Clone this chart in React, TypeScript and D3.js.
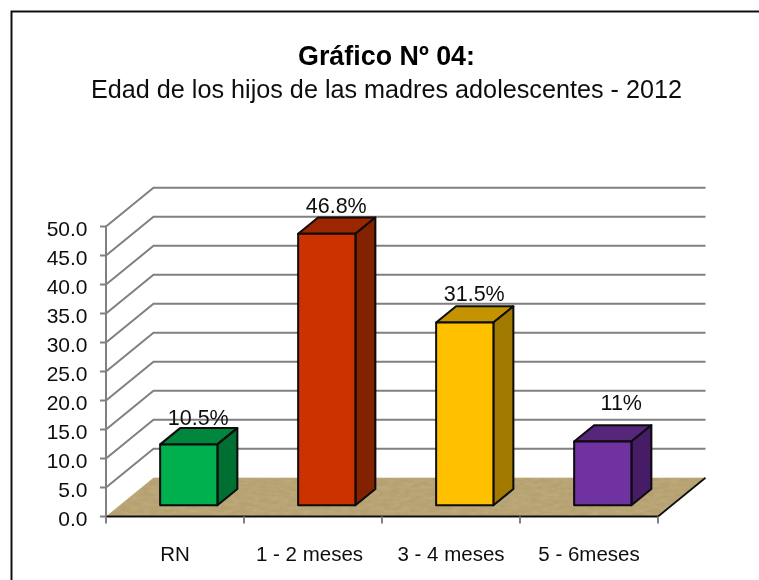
import React from "react"
import * as d3 from "d3"

const categories = ["RN", "1 - 2 meses", "3 - 4 meses", "5 - 6meses"]
const categoryLabels = ["RN", "1 - 2 meses", "3 - 4 meses", "5 - 6meses"]
const values = [10.5, 46.8, 31.5, 11]
const valueLabels = ["10.5%", "46.8%", "31.5%", "11%"]
const frontColors = ["#00b050", "#cc3300", "#ffc000", "#7030a0"]
const topColors = ["#00863c", "#9c2700", "#c39300", "#55257a"]
const sideColors = ["#006f32", "#822000", "#a27a00", "#471f66"]

const font = "'Liberation Sans', Arial, sans-serif"

// suelo y pared del grafico 3D
const yScale = d3.scaleLinear().domain([0, 50]).range([516.5, 226.5])
const xScale = d3.scaleBand().domain(categories).range([106, 658])
const depthX = d3.scaleLinear().domain([0, 1]).range([0, 47.5])
const depthY = d3.scaleLinear().domain([0, 1]).range([0, -38.7])

const x0 = xScale.range()[0]
const x1 = xScale.range()[1]
const ticks = yScale.ticks(10)

const barWidth = xScale.bandwidth() * 0.415
const barFront = 0.29
const barBack = 0.71

const num = d3.format(".1f")
const line = d3.line()

export default function App() {
  const floor = line([
    [x0, yScale(0)],
    [x1, yScale(0)],
    [x1 + depthX(1), yScale(0) + depthY(1)],
    [x0 + depthX(1), yScale(0) + depthY(1)],
  ]) + "Z"

  // ajuste a mano de las etiquetas
  const labelShiftX = [0, 0, 0, 9]
  const labelShiftY = [5.5, 4, 3, -6.8]
  const categoryShift = [0, -3.5, 0, 0]

  return (
    <svg width={759} height={580} style={{ position: "absolute", left: 0, top: 0, background: "#fff" }}>
      <defs>
        <filter id="arena" x="0" y="0" width="100%" height="100%">
          <feTurbulence type="fractalNoise" baseFrequency="0.1 0.3" numOctaves={3} seed={4} />
          <feColorMatrix values="0 0 0 0 0.55  0 0 0 0 0.45  0 0 0 0 0.25  0 0 0 1.1 -0.35" />
          <feComposite in2="SourceGraphic" operator="in" />
          <feMerge>
            <feMergeNode in="SourceGraphic" />
            <feMergeNode />
          </feMerge>
        </filter>
        <filter id="suave">
          <feGaussianBlur stdDeviation="0.5" />
        </filter>
      </defs>

      <g filter="url(#suave)">
        <path d="M759,11.5H11.5V580" fill="none" stroke="#111" strokeWidth={2} />

        <text x={386.5} y={65} textAnchor="middle" fontFamily={font} fontSize={27.5} fontWeight="bold" textLength={177} lengthAdjust="spacingAndGlyphs" fill="#000">
          Gráfico Nº 04:
        </text>
        <text x={386.5} y={98} textAnchor="middle" fontFamily={font} fontSize={26} textLength={591} lengthAdjust="spacingAndGlyphs" fill="#111">
          Edad de los hijos de las madres adolescentes - 2012
        </text>

        {/* rejilla */}
        {ticks.filter(t => t > 0).map(t => (
          <path
            key={t}
            d={line([
              [x0, yScale(t)],
              [x0 + depthX(1), yScale(t) + depthY(1)],
              [x1 + depthX(1), yScale(t) + depthY(1)],
            ])!}
            fill="none"
            stroke="#808080"
            strokeWidth={2}
          />
        ))}

        <path d={floor} fill="#b5a070" filter="url(#arena)" />
        <path d={`M${x0},${yScale(0)}H${x1}L${x1 + depthX(1)},${yScale(0) + depthY(1)}`} fill="none" stroke="#111" strokeWidth={1.8} />

        {/* ejes */}
        <line x1={x0} x2={x0} y1={yScale(50)} y2={yScale(0)} stroke="#808080" strokeWidth={2} />
        {ticks.map(t => (
          <g key={t}>
            <line x1={x0 - 6} x2={x0} y1={yScale(t)} y2={yScale(t)} stroke="#808080" strokeWidth={2} />
            <text x={87.5} y={yScale(t) + 9.5} textAnchor="end" fontFamily={font} fontSize={21} fill="#111">
              {num(t)}
            </text>
          </g>
        ))}
        {[...categories.map(c => xScale(c)!), x1].map(px => (
          <line key={px} x1={px} x2={px} y1={yScale(0)} y2={yScale(0) + 7} stroke="#808080" strokeWidth={2} />
        ))}
        {categories.map((c, i) => (
          <text key={c} x={xScale(c)! + xScale.bandwidth() / 2 + categoryShift[i]} y={560.5} textAnchor="middle" fontFamily={font} fontSize={20.5} fill="#111">
            {categoryLabels[i]}
          </text>
        ))}

        {/* barras */}
        {categories.map((c, i) => {
          const left = xScale(c)! + (xScale.bandwidth() - barWidth) / 2 + depthX(barFront)
          const right = left + barWidth
          const dx = depthX(barBack - barFront)
          const dy = depthY(barBack - barFront)
          const base = yScale(0) + depthY(barFront)
          const top = base - (yScale(0) - yScale(values[i]))
          return (
            <g key={c} stroke="#0a0a0a" strokeWidth={2} strokeLinejoin="round">
              <path d={line([[left, top], [right, top], [right + dx, top + dy], [left + dx, top + dy]])! + "Z"} fill={topColors[i]} />
              <path d={line([[right, top], [right + dx, top + dy], [right + dx, base + dy], [right, base]])! + "Z"} fill={sideColors[i]} />
              <rect x={left} y={top} width={barWidth} height={base - top} fill={frontColors[i]} />
              <text x={left + barWidth / 2 + dx / 2 - 0.5 + labelShiftX[i]} y={top + dy - 8.5 + labelShiftY[i]} stroke="none" textAnchor="middle" fontFamily={font} fontSize={21.5} fill="#111">
                {valueLabels[i]}
              </text>
            </g>
          )
        })}
      </g>
    </svg>
  )
}
